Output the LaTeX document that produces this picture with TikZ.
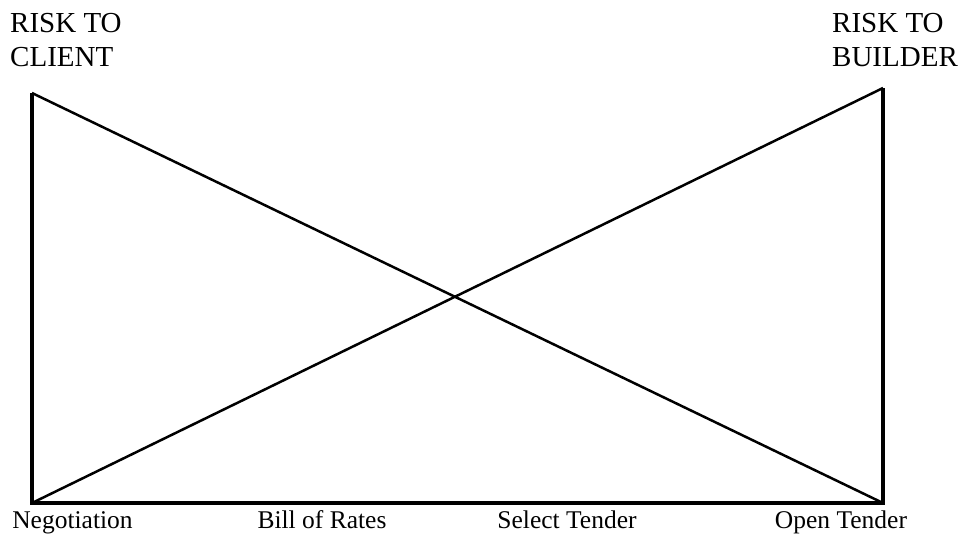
\documentclass[tikz,border=0pt]{standalone}
\usepackage{fontspec}
\setmainfont{Liberation Serif}
\usetikzlibrary{positioning}

\begin{document}
\begin{tikzpicture}[
    x=1pt, y=-1pt,
    frame/.style={line width=3.8pt, line join=miter},
    diag/.style={line width=2.5pt},
    risk/.style={font=\fontsize{29}{34}\selectfont, align=left, anchor=north west, inner sep=0pt},
    route/.style={font=\fontsize{25.5}{30}\selectfont, anchor=base, inner sep=0pt}
]
\useasboundingbox (0,0) rectangle (973,547);
\coordinate (tl) at (32,93);
\coordinate (tr) at (883,88);
\coordinate (bl) at (32,503);
\coordinate (br) at (883,503);
\node[risk] (client) at (10,13) {RISK TO\\CLIENT};
\node[risk] (builder) at (832,13) {RISK TO\\BUILDER};
\node[route] (neg) at (72.5,528) {Negotiation};
\node[route] (bill) at (322,528) {Bill of Rates};
\node[route] (select) at (567,528) {Select Tender};
\node[route] (open) at (841,528) {Open Tender};
\draw[frame] (tl) -- (bl) -- (br) -- (tr);
\draw[diag] (tl) -- (br);
\draw[diag] (bl) -- (tr);
\end{tikzpicture}
\end{document}
